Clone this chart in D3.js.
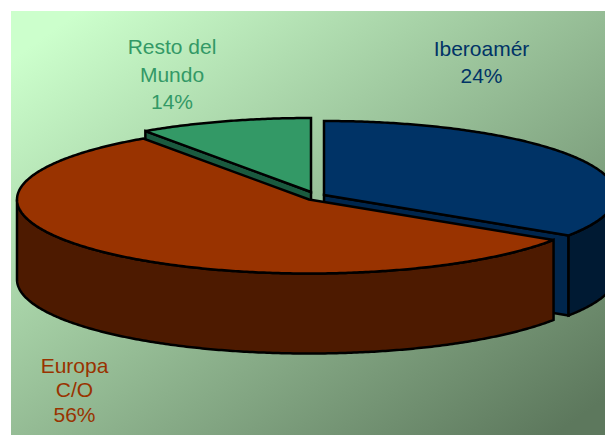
<!DOCTYPE html>
<html><head><meta charset="utf-8">
<script src="https://cdn.jsdelivr.net/npm/d3@7"></script>
<style>html,body{margin:0;padding:0;background:#fff;overflow:hidden}svg{display:block}</style>
</head><body><div id="c"></div>
<script>
const categories = ["Iberoamér", "Europa C/O", "Resto del Mundo"];
const sliceValues = [34.2, 56.2, 9.6];          // apparent share of the drawn pie
const labelPercents = [24, 56, 14];             // percentages printed on the chart
const labelLines = [["Iberoamér"], ["Europa", "C/O"], ["Resto del", "Mundo"]];

const W = 605, H = 435;
const topColors = ["#003366", "#993300", "#339966"];
const cutColors = ["#00264d", "#4d1a00", "#1a5a3f"];
const wallColors = ["#001a33", "#4d1a00", "#1a4d33"];
const centers = [[324, 195], [309, 199.5], [311, 192]];
const labelLayout = [
  {x: 481.5, y: 55.5, dy: 27.5},
  {x: 74.5, y: 372.5, dy: 24.5},
  {x: 172, y: 54, dy: 27.5}
];
const depth = 80;
const sx = d3.scaleLinear().domain([-1, 1]).range([-292, 292]);
const sy = d3.scaleLinear().domain([-1, 1]).range([-74, 74]);

const svg = d3.select("#c").append("svg").attr("width", W).attr("height", H);
const grad = svg.append("defs").append("linearGradient").attr("id", "bg")
  .attr("gradientUnits", "userSpaceOnUse")
  .attr("x1", 11).attr("y1", 11).attr("x2", 395).attr("y2", 549);
grad.append("stop").attr("offset", 0.06).attr("stop-color", "#ccffcc");
grad.append("stop").attr("offset", 1).attr("stop-color", "#5d785d");
svg.append("rect").attr("x", 11).attr("y", 11).attr("width", W - 11).attr("height", H - 11).attr("fill", "url(#bg)");

const arcs = d3.pie().sort(null).value(d => d)(sliceValues);
const line = d3.line();
const pt = (i, a, dz = 0) => [centers[i][0] + sx(Math.sin(a)), centers[i][1] + sy(-Math.cos(a)) + dz];
const samples = (a0, a1) => {
  const n = Math.max(2, Math.ceil(Math.abs(a1 - a0) / 0.01));
  return d3.range(n + 1).map(k => a0 + (a1 - a0) * k / n);
};

const g = svg.append("g").attr("stroke", "#000").attr("stroke-width", 2.5).attr("stroke-linejoin", "miter").attr("stroke-miterlimit", 3);
[2, 0, 1].forEach(i => {
  const a = arcs[i], s = a.startAngle, e = a.endAngle;
  const c = [centers[i][0], centers[i][1]];
  const cut = (ang) => {
    const p = pt(i, ang);
    g.append("path").attr("fill", cutColors[i])
      .attr("d", line([c, p, [p[0], p[1] + depth], [c[0], c[1] + depth]]) + "Z");
  };
  if (Math.sin(s) < -1e-6) cut(s);
  if (Math.sin(e) > 1e-6) cut(e);
  const w0 = Math.max(s, Math.PI / 2), w1 = Math.min(e, 1.5 * Math.PI);
  if (w1 > w0) {
    const front = samples(w0, w1).map(t => pt(i, t));
    const back = samples(w1, w0).map(t => pt(i, t, depth));
    g.append("path").attr("fill", wallColors[i]).attr("d", line(front.concat(back)) + "Z");
  }
  const rim = samples(s, e).map(t => pt(i, t));
  g.append("path").attr("fill", topColors[i]).attr("d", line([c].concat(rim)) + "Z");
});

const labels = svg.append("g").attr("font-family", "'Liberation Sans', Arial, sans-serif")
  .attr("font-size", 21).attr("text-anchor", "middle");
categories.forEach((cat, i) => {
  const t = labels.append("text").attr("fill", topColors[i]);
  const L = labelLayout[i];
  labelLines[i].concat([labelPercents[i] + "%"]).forEach((s, k) => {
    t.append("tspan").attr("x", L.x).attr("y", L.y + k * L.dy).text(s);
  });
});
</script></body></html>
